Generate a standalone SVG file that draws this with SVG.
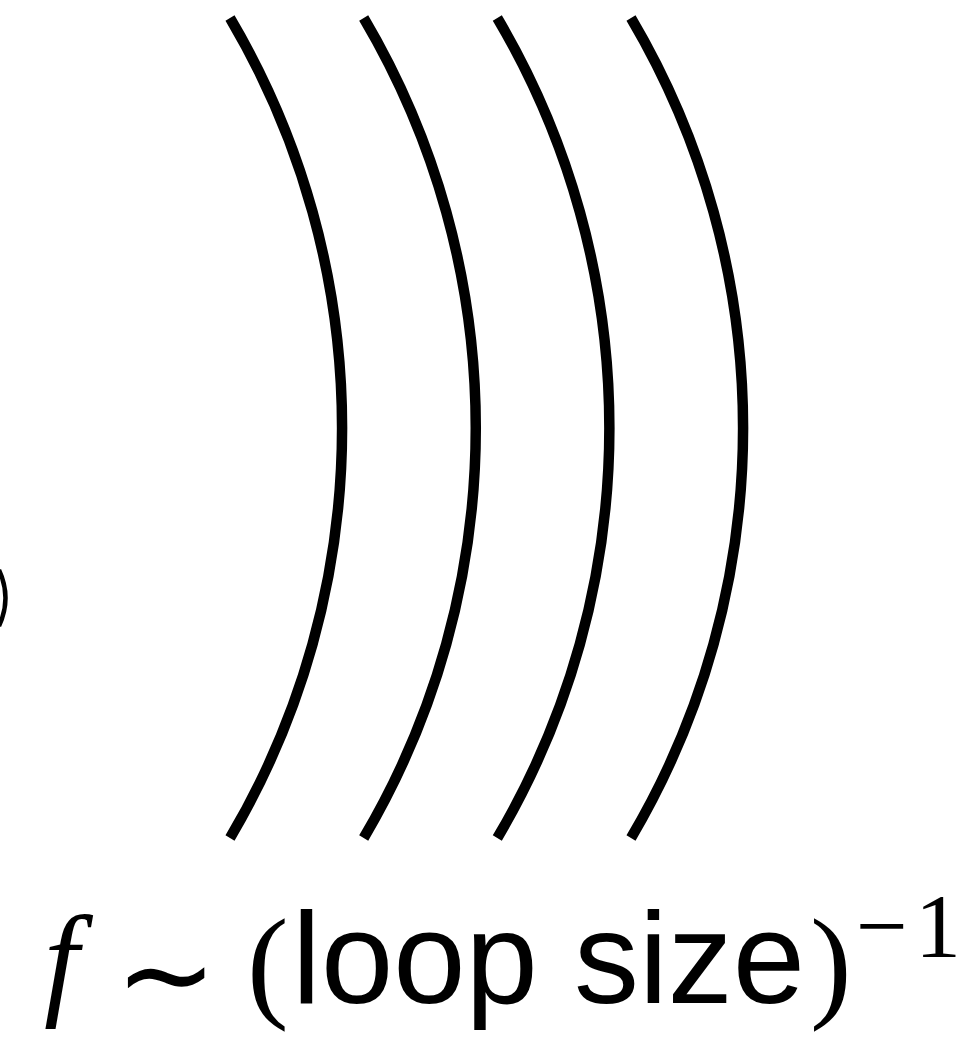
<svg xmlns="http://www.w3.org/2000/svg" width="965" height="1038" viewBox="0 0 965 1038">
<style>
.wave{fill:none;stroke:#000;stroke-width:10.5;stroke-linecap:butt}
.serif{font-family:"Liberation Serif","Times New Roman",serif;fill:#000}
.sans{font-family:"Liberation Sans",Arial,sans-serif;fill:#000}
.sym{font-family:"DejaVu Sans",sans-serif;fill:#000}
</style>
<rect width="965" height="1038" fill="#fff"/>
<g id="edge-fragment">
<path d="M -1 570 Q 12 598 -1 626" fill="none" stroke="#000" stroke-width="4.5"/>
</g>
<g id="waves">
<path class="wave" d="M 230 18 A 806 806 0 0 1 230 838"/>
<path class="wave" d="M 363.7 18 A 806 806 0 0 1 363.7 838"/>
<path class="wave" d="M 497.3 18 A 806 806 0 0 1 497.3 838"/>
<path class="wave" d="M 631 18 A 806 806 0 0 1 631 838"/>
</g>
<g id="label">
<text class="serif" x="44" y="1002" font-size="125" font-style="italic">f</text>
<text class="sym" x="115" y="1016" font-size="122">∼</text>
<text class="serif" x="247" y="1005" font-size="125">(</text>
<text class="sans" x="292" y="1003" font-size="130">loop size</text>
<text class="serif" x="810" y="1005" font-size="125">)</text>
<text class="serif" x="856" y="957" font-size="92">−</text>
<text class="serif" x="915" y="957" font-size="92">1</text>
</g>
</svg>
